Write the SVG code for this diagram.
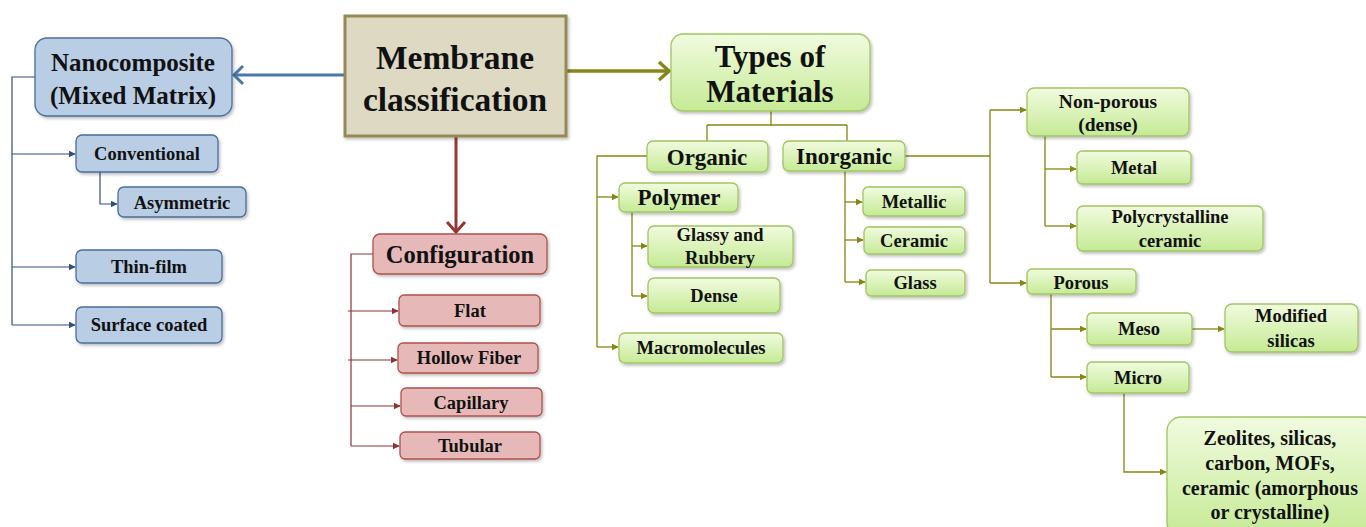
<svg xmlns="http://www.w3.org/2000/svg" width="1366" height="527" viewBox="0 0 1366 527">
<defs>
<linearGradient id="gg" x1="0" y1="0" x2="0" y2="1"><stop offset="0" stop-color="#f1fbdf"/><stop offset="1" stop-color="#c5ea95"/></linearGradient>
<filter id="sh" x="-10%" y="-10%" width="125%" height="135%"><feDropShadow dx="1.5" dy="2" stdDeviation="1.5" flood-color="#000" flood-opacity="0.25"/></filter>
<marker id="ab" viewBox="0 0 10 10" refX="9" refY="5" markerWidth="7" markerHeight="7" orient="auto" markerUnits="userSpaceOnUse"><path d="M0,0L10,5L0,10z" fill="#2f4f7f"/></marker>
<marker id="ar" viewBox="0 0 10 10" refX="9" refY="5" markerWidth="7" markerHeight="7" orient="auto" markerUnits="userSpaceOnUse"><path d="M0,0L10,5L0,10z" fill="#8b3434"/></marker>
<marker id="ag" viewBox="0 0 10 10" refX="9" refY="5" markerWidth="7" markerHeight="7" orient="auto" markerUnits="userSpaceOnUse"><path d="M0,0L10,5L0,10z" fill="#868612"/></marker>
</defs>
<style>
text{font-family:"Liberation Serif","DejaVu Serif",serif;font-weight:bold;fill:#111;text-anchor:middle;dominant-baseline:central}
.b{fill:#b9cde5;stroke:#4a6d9c;stroke-width:1.3;filter:url(#sh)}
.r{fill:#e6b9b8;stroke:#b0504d;stroke-width:1.3;filter:url(#sh)}
.g{fill:url(#gg);stroke:#a2c563;stroke-width:1.3;filter:url(#sh)}
.m{fill:#ddd9c3;stroke:#948a54;stroke-width:3;filter:url(#sh)}
.lb{fill:none;stroke:#2f4f7f;stroke-width:1.2}
.lr{fill:none;stroke:#8b3434;stroke-width:1.2}
.lg{fill:none;stroke:#868612;stroke-width:1.3}
.s16{font-size:18.5px}.s17{font-size:19.5px}.s20{font-size:23px}
</style>
<g id="connectors">
<path d="M345,75 L234,75" stroke="#4a76ab" stroke-width="3" fill="none"/>
<path d="M243,66 L234,75 L243,84" stroke="#4a76ab" stroke-width="3" fill="none"/>
<path d="M566,71 L668,71" stroke="#86861a" stroke-width="3.5" fill="none"/>
<path d="M659,62 L669,71 L659,80" stroke="#86861a" stroke-width="3.5" fill="none"/>
<path d="M456,137 L456,231" stroke="#953735" stroke-width="3" fill="none"/>
<path d="M447,222 L456,232 L465,222" stroke="#953735" stroke-width="3" fill="none"/>
<path class="lb" d="M35,77 H12 V325"/>
<path class="lb" d="M12,154 H75" marker-end="url(#ab)"/>
<path class="lb" d="M12,267 H75" marker-end="url(#ab)"/>
<path class="lb" d="M12,325 H75" marker-end="url(#ab)"/>
<path class="lb" d="M100,172 V204 H117" marker-end="url(#ab)"/>
<path class="lr" d="M373,254 H351 V446"/>
<path class="lr" d="M348,311 H398" marker-end="url(#ar)"/>
<path class="lr" d="M348,360 H397" marker-end="url(#ar)"/>
<path class="lr" d="M351,406 H400" marker-end="url(#ar)"/>
<path class="lr" d="M351,446 H399" marker-end="url(#ar)"/>
<path class="lg" d="M771,111 V125 M707,125 H847 M707,125 V141 M847,125 V141"/>
<path class="lg" d="M647,156 H597 V347"/>
<path class="lg" d="M597,197 H618" marker-end="url(#ag)"/>
<path class="lg" d="M597,347 H618" marker-end="url(#ag)"/>
<path class="lg" d="M632,212 V296"/>
<path class="lg" d="M632,246 H647" marker-end="url(#ag)"/>
<path class="lg" d="M632,296 H647" marker-end="url(#ag)"/>
<path class="lg" d="M845,171 V282"/>
<path class="lg" d="M845,202 H862" marker-end="url(#ag)"/>
<path class="lg" d="M845,240 H863" marker-end="url(#ag)"/>
<path class="lg" d="M845,282 H865" marker-end="url(#ag)"/>
<path class="lg" d="M905,156 H990 M990,110 V283"/>
<path class="lg" d="M990,110 H1026" marker-end="url(#ag)"/>
<path class="lg" d="M990,283 H1026" marker-end="url(#ag)"/>
<path class="lg" d="M1045,136 V226"/>
<path class="lg" d="M1045,169 H1076" marker-end="url(#ag)"/>
<path class="lg" d="M1045,226 H1076" marker-end="url(#ag)"/>
<path class="lg" d="M1051,294 V377"/>
<path class="lg" d="M1051,329 H1086" marker-end="url(#ag)"/>
<path class="lg" d="M1051,377 H1086" marker-end="url(#ag)"/>
<path class="lg" d="M1192,329 H1224" marker-end="url(#ag)"/>
<path class="lg" d="M1124,393 V472 H1166" marker-end="url(#ag)"/>
</g>
<g id="membrane"><rect class="m" x="345" y="16" width="221" height="120"/><text x="455" y="57" font-size="33.5">Membrane</text><text x="455" y="99" font-size="33.5">classification</text></g>
<g id="nanocomposite"><rect class="b" x="35" y="38" width="197" height="78" rx="12"/><text x="133" y="62" font-size="25">Nanocomposite</text><text x="133" y="95" font-size="25">(Mixed Matrix)</text></g>
<g id="conventional"><rect class="b" x="76" y="135" width="142" height="37" rx="6"/><text class="s16" x="147" y="154">Conventional</text></g>
<g id="asymmetric"><rect class="b" x="118" y="187" width="128" height="30" rx="6"/><text class="s16" x="182" y="203">Asymmetric</text></g>
<g id="thinfilm"><rect class="b" x="76" y="250" width="146" height="33" rx="6"/><text class="s16" x="149" y="267">Thin-film</text></g>
<g id="surfacecoated"><rect class="b" x="76" y="307" width="146" height="36" rx="6"/><text class="s16" x="149" y="325">Surface coated</text></g>
<g id="configuration"><rect class="r" x="373" y="234" width="174" height="40" rx="7"/><text x="460" y="254" font-size="24.5">Configuration</text></g>
<g id="flat"><rect class="r" x="399" y="295" width="141" height="31" rx="5"/><text class="s16" x="470" y="311">Flat</text></g>
<g id="hollowfiber"><rect class="r" x="398" y="343" width="140" height="30" rx="5"/><text class="s16" x="469" y="358">Hollow Fiber</text></g>
<g id="capillary"><rect class="r" x="401" y="388" width="141" height="28" rx="5"/><text class="s16" x="471" y="403">Capillary</text></g>
<g id="tubular"><rect class="r" x="400" y="432" width="140" height="27" rx="5"/><text class="s16" x="470" y="446">Tubular</text></g>
<g id="types"><rect class="g" x="671" y="34" width="199" height="77" rx="12"/><text x="770" y="56" font-size="31">Types of</text><text x="770" y="91" font-size="31">Materials</text></g>
<g id="organic"><rect class="g" x="647" y="141" width="121" height="31" rx="6"/><text class="s20" x="707" y="157">Organic</text></g>
<g id="inorganic"><rect class="g" x="783" y="141" width="122" height="30" rx="6"/><text class="s20" x="844" y="156">Inorganic</text></g>
<g id="polymer"><rect class="g" x="619" y="183" width="119" height="29" rx="6"/><text class="s20" x="679" y="197">Polymer</text></g>
<g id="glassy"><rect class="g" x="648" y="226" width="145" height="41" rx="6"/><text class="s16" x="720" y="235">Glassy and</text><text class="s16" x="720" y="258">Rubbery</text></g>
<g id="dense"><rect class="g" x="648" y="278" width="132" height="35" rx="6"/><text class="s16" x="714" y="296">Dense</text></g>
<g id="macromolecules"><rect class="g" x="619" y="333" width="164" height="30" rx="6"/><text class="s16" x="701" y="348">Macromolecules</text></g>
<g id="metallic"><rect class="g" x="863" y="187" width="102" height="29" rx="5"/><text class="s16" x="914" y="202">Metallic</text></g>
<g id="ceramic"><rect class="g" x="864" y="227" width="101" height="27" rx="5"/><text class="s16" x="914" y="241">Ceramic</text></g>
<g id="glass"><rect class="g" x="866" y="270" width="99" height="26" rx="5"/><text class="s16" x="915" y="283">Glass</text></g>
<g id="nonporous"><rect class="g" x="1027" y="88" width="162" height="48" rx="7"/><text class="s17" x="1108" y="101">Non-porous</text><text class="s17" x="1108" y="124">(dense)</text></g>
<g id="metal"><rect class="g" x="1077" y="151" width="114" height="33" rx="5"/><text class="s16" x="1134" y="168">Metal</text></g>
<g id="polycrystalline"><rect class="g" x="1077" y="206" width="186" height="45" rx="6"/><text class="s16" x="1170" y="217">Polycrystalline</text><text class="s16" x="1170" y="241">ceramic</text></g>
<g id="porous"><rect class="g" x="1027" y="269" width="109" height="25" rx="5"/><text class="s16" x="1081" y="283">Porous</text></g>
<g id="meso"><rect class="g" x="1087" y="313" width="105" height="32" rx="5"/><text class="s16" x="1139" y="329">Meso</text></g>
<g id="modified"><rect class="g" x="1225" y="304" width="133" height="48" rx="7"/><text class="s16" x="1291" y="316">Modified</text><text class="s16" x="1291" y="341">silicas</text></g>
<g id="micro"><rect class="g" x="1087" y="362" width="102" height="31" rx="5"/><text class="s16" x="1138" y="378">Micro</text></g>
<g id="zeolites"><rect class="g" x="1167" y="417" width="210" height="120" rx="14"/><text x="1270" y="438" font-size="20">Zeolites, silicas,</text><text x="1270" y="463" font-size="20">carbon, MOFs,</text><text x="1270" y="488" font-size="20">ceramic (amorphous</text><text x="1270" y="512" font-size="20">or crystalline)</text></g>
</svg>
